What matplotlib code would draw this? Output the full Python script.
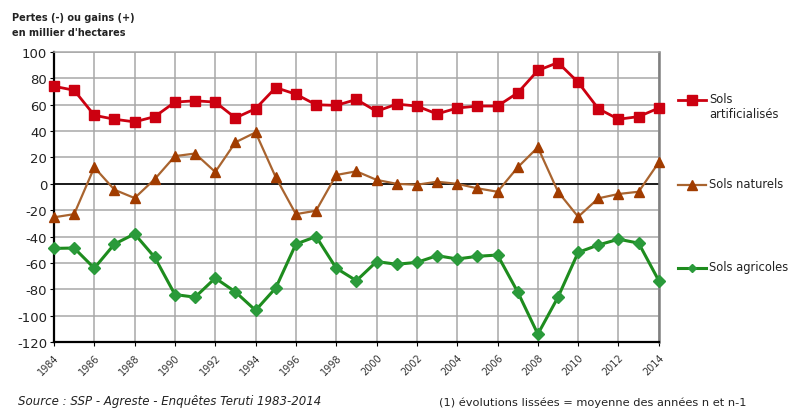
import matplotlib.pyplot as plt
from matplotlib.lines import Line2D

years = list(range(1984, 2015))

artificialises = [74, 71, 52, 49, 47, 51, 62, 63, 62, 50, 57, 73, 68, 60, 59.5, 64,
                  55, 60.5, 59, 53, 57.5, 59, 59, 69, 86, 92, 77, 57, 49, 51, 57.5]
naturels = [-25.4, -23, 12.5, -4.5, -10.8, 3.6, 21, 23, 9, 31.5, 39, 5, -23, -20.4,
            6.7, 9.5, 3, 0, -0.7, 1.6, 0, -3.4, -6, 12.5, 27.7, -6, -25, -11, -7.7,
            -6, 16.3]
agricoles = [-49, -48.7, -64, -45.7, -38, -55.8, -84, -86, -71.5, -82, -96, -79,
             -45.7, -40, -64, -73.5, -59, -61, -59.6, -54.5, -57, -55, -54, -82,
             -114, -86, -52, -46.4, -42, -45, -73.5]

tick_years = list(range(1984, 2015, 2))
yticks = list(range(-120, 101, 20))

red = '#cc0010'
brown = '#a9642f'
brown_mk = '#a13c00'
green = '#1e8c1e'
green_mk = '#2a9a3a'

fig = plt.figure(figsize=(7.89, 4.10), dpi=100)
ax = fig.add_axes([0.0684, 0.1634, 0.7666, 0.7073])

ax.plot(years, artificialises, color=red, lw=2, marker='s', ms=7.8,
        mfc=red, mec=red, clip_on=False, zorder=4)
ax.plot(years, naturels, color=brown, lw=1.6, marker='^', ms=7,
        mfc=brown_mk, mec=brown_mk, clip_on=False, zorder=4)
ax.plot(years, agricoles, color=green, lw=2.2, marker='D', ms=6.5,
        mfc=green_mk, mec=green_mk, clip_on=False, zorder=4)

ax.axhline(0, color='black', lw=1.2, zorder=2)
ax.set_xlim(1984, 2014)
ax.set_ylim(-120, 100)
ax.set_xticks(tick_years)
ax.set_xticklabels([str(y) for y in tick_years], rotation=45, ha='right',
                   va='top', fontsize=7, color='#333333', rotation_mode='anchor')
ax.set_yticks(yticks)
ax.set_yticklabels([str(v) for v in yticks], fontsize=9.5, color='#222222')
ax.grid(True, color='#a8a8a8', lw=1.1, zorder=1)
ax.tick_params(axis='both', length=3, color='black', pad=2)
ax.tick_params(axis='x', pad=4)
for side in ['left', 'bottom']:
    ax.spines[side].set_color('black')
    ax.spines[side].set_linewidth(1.6)
ax.spines['top'].set_color('#a8a8a8')
ax.spines['top'].set_linewidth(1.1)
ax.spines['right'].set_color('#808080')
ax.spines['right'].set_linewidth(1.8)

# legend drawn by hand: sample line + marker, then the label
legend = [
    (red, red, 's', 7, 2.0, 'Sols\nartificialisés', 101),
    (brown, brown_mk, '^', 7, 1.6, 'Sols naturels', 186),
    (green, green_mk, 'D', 4.5, 2.2, 'Sols agricoles', 269),
]
x0, x1 = 678 / 789, 706 / 789
for lc, mc, mk, ms, lw, label, ypx in legend:
    y = 1 - ypx / 410
    fig.add_artist(Line2D([x0, x1], [y, y], color=lc, lw=lw,
                          transform=fig.transFigure))
    fig.add_artist(Line2D([(x0 + x1) / 2], [y], marker=mk, ms=ms, mfc=mc,
                          mec=mc, lw=0, transform=fig.transFigure))
    fig.text(709 / 789, y + 0.019, label, fontsize=8.3, color='#222222',
             ha='left', va='top', linespacing=1.15)

fig.text(0.015, 0.937, "Pertes (-) ou gains (+)\nen millier d'hectares",
         fontsize=7, fontweight='bold', color='#222222', ha='left', va='center',
         linespacing=1.6)
fig.text(0.023, 0.005, "Source : SSP - Agreste - Enquêtes Teruti 1983-2014",
         fontsize=8.5, style='italic', color='#222222', ha='left', va='bottom')
fig.text(0.557, 0.005, "(1) évolutions lissées = moyenne des années n et n-1",
         fontsize=8.2, color='#222222', ha='left', va='bottom')

fig.savefig('out.png', dpi=100)
